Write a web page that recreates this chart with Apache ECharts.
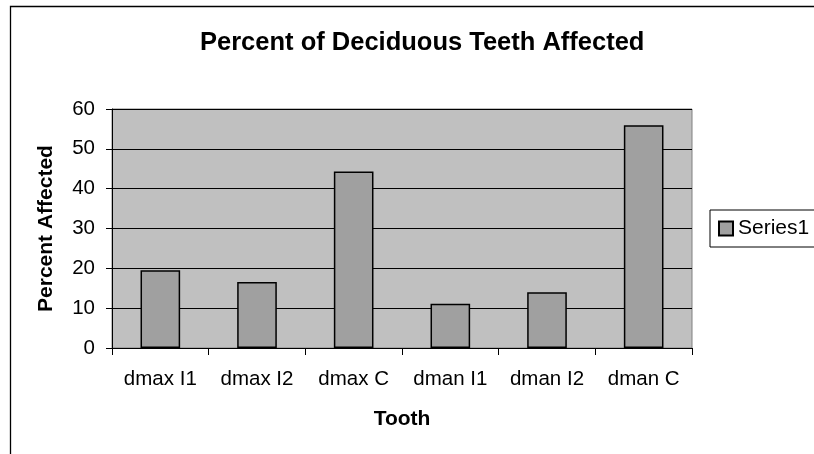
<!DOCTYPE html>
<html>
<head>
<meta charset="utf-8">
<title>Percent of Deciduous Teeth Affected</title>
<script src="https://cdn.jsdelivr.net/npm/echarts@6/dist/echarts.min.js"></script>
<style>
  html, body { margin: 0; padding: 0; background: #ffffff; }
  #chart { width: 814px; height: 454px; }
</style>
</head>
<body>
<div id="chart"></div>
<script>
// Tooth categories along the x axis
const teeth = ['dmax I1', 'dmax I2', 'dmax C', 'dman I1', 'dman I2', 'dman C'];
// Percent of teeth affected for each category
const percentAffected = [19.5, 16.6, 44.3, 11.1, 14.0, 55.9];
// Value axis range and step
const yMin = 0;
const yMax = 60;
const yStep = 10;

const FONT = '"Liberation Sans", Arial, sans-serif';

const chart = echarts.init(document.getElementById('chart'), null, { renderer: 'canvas' });

chart.setOption({
  backgroundColor: '#ffffff',
  animation: false,
  textStyle: { fontFamily: FONT, color: '#000000' },
  graphic: [
    {
      // outer chart frame
      type: 'rect',
      silent: true,
      z: -10,
      shape: { x: 10.5, y: 6.5, width: 900, height: 500 },
      style: { fill: '#ffffff', stroke: '#000000', lineWidth: 1.3 }
    }
  ],
  title: {
    text: 'Percent of Deciduous Teeth Affected',
    left: 195,
    top: 25,
    textStyle: { fontFamily: FONT, fontSize: 25.5, fontWeight: 'bold', color: '#000000' }
  },
  legend: {
    data: ['Series1'],
    left: 710,
    top: 210,
    orient: 'vertical',
    padding: [8, 40, 8, 8],
    borderColor: '#000000',
    borderWidth: 1,
    backgroundColor: '#ffffff',
    itemWidth: 14,
    itemHeight: 14,
    icon: 'rect',
    textStyle: { fontFamily: FONT, fontSize: 21, color: '#000000' }
  },
  grid: {
    left: 112,
    right: 122,
    top: 109,
    bottom: 106,
    show: true,
    backgroundColor: '#C0C0C0',
    borderColor: '#808080',
    borderWidth: 1,
    containLabel: false
  },
  xAxis: {
    type: 'category',
    data: teeth,
    name: 'Tooth',
    nameLocation: 'middle',
    nameGap: 61,
    nameTextStyle: { fontFamily: FONT, fontSize: 21, fontWeight: 'bold', color: '#000000' },
    axisLine: { show: true, lineStyle: { color: '#000000', width: 1 } },
    axisTick: { show: true, alignWithLabel: false, length: 7, lineStyle: { color: '#000000' } },
    axisLabel: { fontFamily: FONT, fontSize: 20.5, color: '#000000', margin: 21, interval: 0 },
    splitLine: { show: false }
  },
  yAxis: {
    type: 'value',
    min: yMin,
    max: yMax,
    interval: yStep,
    name: 'Percent Affected',
    nameLocation: 'middle',
    nameGap: 55,
    nameRotate: 90,
    nameTextStyle: { fontFamily: FONT, fontSize: 21, fontWeight: 'bold', color: '#000000' },
    axisLine: { show: true, lineStyle: { color: '#000000', width: 1 } },
    axisTick: { show: true, length: 6, lineStyle: { color: '#000000' } },
    axisLabel: { fontFamily: FONT, fontSize: 20.5, color: '#000000', margin: 17 },
    splitLine: { show: true, lineStyle: { color: '#000000', width: 1 } }
  },
  series: [
    {
      name: 'Series1',
      type: 'bar',
      data: percentAffected,
      barCategoryGap: '59%',
      itemStyle: { color: '#A0A0A0', borderColor: '#000000', borderWidth: 1.5 }
    }
  ]
});
</script>
</body>
</html>
